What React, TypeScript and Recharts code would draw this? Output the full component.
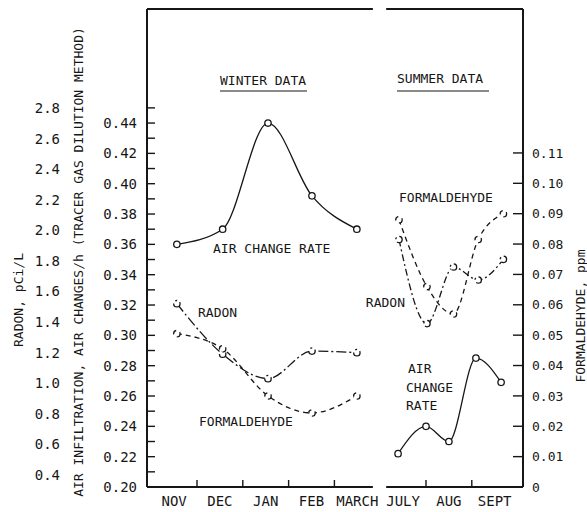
import React from 'react';
import { ComposedChart, Line, XAxis, YAxis, ReferenceLine } from 'recharts';

// ---- categories / tick labels ----
const monthLabels = ['NOV', 'DEC', 'JAN', 'FEB', 'MARCH', 'JULY', 'AUG', 'SEPT'];
// month slots on the broken time axis: NOV = 0..1 ... MARCH = 4..5, JULY = 5..6, AUG = 6..7, SEPT = 7..8
const monthBoundaries = [1, 2, 3, 4, 6, 7];
const airTickValues = [0.2, 0.21, 0.22, 0.23, 0.24, 0.25, 0.26, 0.27, 0.28, 0.29, 0.3, 0.31, 0.32, 0.33, 0.34, 0.35, 0.36, 0.37, 0.38, 0.39, 0.4, 0.41, 0.42, 0.43, 0.44, 0.45];
const radonTickValues = [0.4, 0.6, 0.8, 1.0, 1.2, 1.4, 1.6, 1.8, 2.0, 2.2, 2.4, 2.6, 2.8];
const formaldehydeTickValues = [0, 0.01, 0.02, 0.03, 0.04, 0.05, 0.06, 0.07, 0.08, 0.09, 0.1, 0.11];

// ---- sampling times (month slots) ----
const winterTimes = [0.56, 1.56, 2.55, 3.51, 4.49];
const summerAirTimes = [5.39, 6.0, 6.5, 7.09, 7.64];
const summerPollutantTimes = [5.41, 6.02, 6.6, 7.14, 7.69];

// ---- series values ----
const winterAirChange = [0.36, 0.37, 0.44, 0.392, 0.37];
const winterRadon = [1.52, 1.19, 1.03, 1.21, 1.2];
const winterFormaldehyde = [0.0505, 0.0455, 0.03, 0.0244, 0.03];
const summerAirChange = [0.222, 0.24, 0.23, 0.285, 0.269];
const summerRadon = [1.94, 1.39, 1.76, 1.675, 1.81];
const summerFormaldehyde = [0.088, 0.066, 0.057, 0.0815, 0.09];

const X_DOMAIN: [number, number] = [-0.092, 8.118];
const GAP: [number, number] = [4.84, 5.13];
const AIR_DOMAIN: [number, number] = [0.2, 0.5152];
const RADON_DOMAIN: [number, number] = [0.3215, 3.447];
const HCHO_DOMAIN: [number, number] = [0, 0.1574];

const INK = '#161616';
const FONT = 'DejaVu Sans Mono';
const txt = { fontFamily: FONT, fontSize: 13, fill: INK } as const;

const toData = (ts: number[], vs: number[]) => ts.map((t, i) => ({ t, v: vs[i] }));

const dot = { r: 3.2, fill: '#fff', stroke: INK, strokeWidth: 1.3 };

const AirTick = (props: any) => {
  const { x, y, payload } = props;
  const v = payload.value as number;
  const k = Math.round(v * 100);
  const labelled = k % 2 === 0 && k <= 44;
  return (
    <g>
      <line x1={x} x2={x + 8} y1={y} y2={y} stroke={INK} strokeWidth={1.4} />
      {labelled && (
        <text x={x - 10} y={y} dy="0.36em" textAnchor="end" style={{ ...txt, fontSize: 14 }}>
          {v.toFixed(2)}
        </text>
      )}
    </g>
  );
};

const HchoTick = (props: any) => {
  const { x, y, payload } = props;
  const v = payload.value as number;
  return (
    <g>
      {v > 0 && <line x1={x - 10} x2={x} y1={y} y2={y} stroke={INK} strokeWidth={1.4} />}
      <text x={x + 9} y={y} dy="0.36em" textAnchor="start" style={{ ...txt, fontSize: 13 }}>
        {v === 0 ? '0' : v.toFixed(2)}
      </text>
    </g>
  );
};

const BottomTick = (props: any) => {
  const { x, y, payload } = props;
  const v = payload.value as number;
  if (Number.isInteger(v)) {
    return <line x1={x} x2={x} y1={y} y2={y - 7} stroke={INK} strokeWidth={1.4} />;
  }
  return (
    <text x={x} y={y + 9} dy="0.71em" textAnchor="middle" style={{ ...txt, fontSize: 14 }}>
      {monthLabels[Math.floor(v)]}
    </text>
  );
};

const TopTick = (props: any) => {
  const { x, y } = props;
  return <line x1={x} x2={x} y1={y} y2={y + 7} stroke={INK} strokeWidth={1.4} />;
};

const bottomTicks = [
  ...monthLabels.map((_, i) => i + 0.5),
  ...monthBoundaries,
].sort((a, b) => a - b);

export default function App() {
  return (
    <div style={{ position: 'absolute', left: 0, top: 0, background: '#fff' }}>
      <ComposedChart width={587} height={512} margin={{ top: 9, right: 0, bottom: 0, left: 0 }}>
        <XAxis
          xAxisId="b"
          dataKey="t"
          type="number"
          domain={X_DOMAIN}
          allowDataOverflow
          ticks={bottomTicks}
          interval={0}
          height={25}
          axisLine={false}
          tickLine={false}
          tickSize={0}
          tickMargin={0}
          tick={<BottomTick />}
        />
        <XAxis
          xAxisId="top"
          orientation="top"
          type="number"
          domain={X_DOMAIN}
          allowDataOverflow
          ticks={monthBoundaries}
          interval={0}
          height={0}
          axisLine={false}
          tickLine={false}
          tickSize={0}
          tickMargin={0}
          tick={<TopTick />}
        />
        <YAxis
          yAxisId="air"
          orientation="left"
          type="number"
          domain={AIR_DOMAIN}
          allowDataOverflow
          ticks={airTickValues}
          interval={0}
          width={79}
          axisLine={{ stroke: INK, strokeWidth: 2 }}
          tickLine={false}
          tickSize={0}
          tickMargin={0}
          tick={<AirTick />}
        />
        <YAxis
          yAxisId="radon"
          orientation="left"
          type="number"
          domain={RADON_DOMAIN}
          allowDataOverflow
          ticks={radonTickValues}
          interval={0}
          width={68}
          axisLine={false}
          tickLine={false}
          tick={{ ...txt, fontSize: 14 }}
          tickFormatter={(v: number) => v.toFixed(1)}
        />
        <YAxis
          yAxisId="hcho"
          orientation="right"
          type="number"
          domain={HCHO_DOMAIN}
          allowDataOverflow
          ticks={formaldehydeTickValues}
          interval={0}
          width={64}
          axisLine={{ stroke: INK, strokeWidth: 2 }}
          tickLine={false}
          tickSize={0}
          tickMargin={0}
          tick={<HchoTick />}
        />

        {/* frame with the break between winter and summer */}
        <ReferenceLine xAxisId="b" yAxisId="air" segment={[{ x: X_DOMAIN[0], y: AIR_DOMAIN[0] }, { x: GAP[0], y: AIR_DOMAIN[0] }]} stroke={INK} strokeWidth={2} />
        <ReferenceLine xAxisId="b" yAxisId="air" segment={[{ x: GAP[1], y: AIR_DOMAIN[0] }, { x: X_DOMAIN[1], y: AIR_DOMAIN[0] }]} stroke={INK} strokeWidth={2} />
        <ReferenceLine xAxisId="b" yAxisId="air" segment={[{ x: X_DOMAIN[0], y: AIR_DOMAIN[1] }, { x: GAP[0], y: AIR_DOMAIN[1] }]} stroke={INK} strokeWidth={2} />
        <ReferenceLine xAxisId="b" yAxisId="air" segment={[{ x: GAP[1], y: AIR_DOMAIN[1] }, { x: X_DOMAIN[1], y: AIR_DOMAIN[1] }]} stroke={INK} strokeWidth={2} />

        {/* winter */}
        <Line xAxisId="b" yAxisId="air" data={toData(winterTimes, winterAirChange)} dataKey="v" type="monotone" stroke={INK} strokeWidth={1.3} dot={dot} activeDot={false} isAnimationActive={false} />
        <Line xAxisId="b" yAxisId="radon" data={toData(winterTimes, winterRadon)} dataKey="v" type="monotone" stroke={INK} strokeWidth={1.3} strokeDasharray="10 3 2 3" dot={dot} activeDot={false} isAnimationActive={false} />
        <Line xAxisId="b" yAxisId="hcho" data={toData(winterTimes, winterFormaldehyde)} dataKey="v" type="monotone" stroke={INK} strokeWidth={1.3} strokeDasharray="5 4" dot={dot} activeDot={false} isAnimationActive={false} />

        {/* summer */}
        <Line xAxisId="b" yAxisId="air" data={toData(summerAirTimes, summerAirChange)} dataKey="v" type="monotone" stroke={INK} strokeWidth={1.3} dot={dot} activeDot={false} isAnimationActive={false} />
        <Line xAxisId="b" yAxisId="radon" data={toData(summerPollutantTimes, summerRadon)} dataKey="v" type="monotone" stroke={INK} strokeWidth={1.3} strokeDasharray="7 3 2 3" dot={dot} activeDot={false} isAnimationActive={false} />
        <Line xAxisId="b" yAxisId="hcho" data={toData(summerPollutantTimes, summerFormaldehyde)} dataKey="v" type="monotone" stroke={INK} strokeWidth={1.3} strokeDasharray="5 4" dot={dot} activeDot={false} isAnimationActive={false} />

        {/* annotations */}
        <g>
          <text x={220} y={85} style={txt}>WINTER DATA</text>
          <line x1={220} x2={307} y1={91} y2={91} stroke={INK} strokeWidth={1.2} />
          <text x={397} y={83} style={txt}>SUMMER DATA</text>
          <line x1={397} x2={489} y1={91} y2={91} stroke={INK} strokeWidth={1.2} />
          <text x={213} y={253} style={txt}>AIR CHANGE RATE</text>
          <text x={198} y={317} style={txt}>RADON</text>
          <text x={199} y={426} style={txt}>FORMALDEHYDE</text>
          <text x={399} y={202} style={txt}>FORMALDEHYDE</text>
          <text x={405} y={307} textAnchor="end" style={txt}>RADON</text>
          <text x={408} y={373} style={txt}>AIR</text>
          <text x={406} y={392} style={txt}>CHANGE</text>
          <text x={406} y={410} style={txt}>RATE</text>
          <text x={18} y={300} transform="rotate(-90 18 300)" textAnchor="middle" dominantBaseline="central" style={txt}>RADON, pCi/L</text>
          <text x={78} y={262} transform="rotate(-90 78 262)" textAnchor="middle" dominantBaseline="central" style={txt}>AIR INFILTRATION, AIR CHANGES/h (TRACER GAS DILUTION METHOD)</text>
          <text x={580} y={316} transform="rotate(-90 580 316)" textAnchor="middle" dominantBaseline="central" style={txt}>FORMALDEHYDE, ppm</text>
        </g>
      </ComposedChart>
    </div>
  );
}
